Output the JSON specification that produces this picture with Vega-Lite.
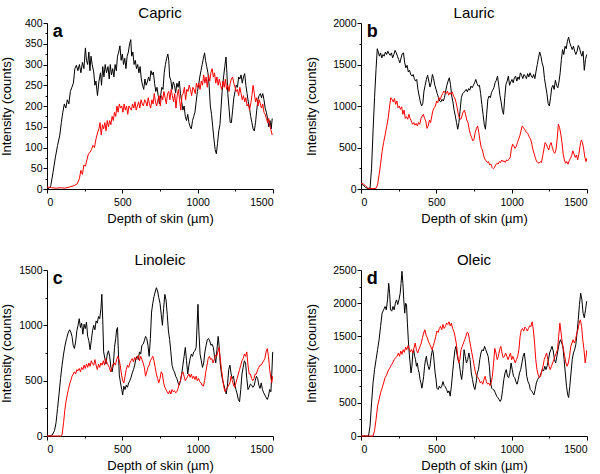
{
"$schema":"https://vega.github.io/schema/vega-lite/v6.json",
"padding":{"left":0,"top":6,"right":0,"bottom":0},
"background":"white",
"align":"each",
"config":{"view":{"stroke":null},"font":"Liberation Sans",
 "title":{"font":"Liberation Sans","fontSize":15,"fontWeight":"normal","color":"black","offset":1,"frame":"group","dy":4},
 "axis":{"grid":false,"domainColor":"black","tickColor":"black","labelColor":"black","titleColor":"black","labelFont":"Liberation Sans","titleFont":"Liberation Sans","labelFontSize":10.5,"titleFontSize":13,"titleFontWeight":"normal","labelPadding":1,"domainWidth":1,"tickWidth":1,"format":"d","labelOverlap":false},
 "axisX":{"titlePadding":5,"labelPadding":4},
 "line":{"strokeWidth":1,"interpolate":"linear"}},
"spacing":{"row":27,"column":30},
"columns":2,
"datasets":{
"aK":[{"d":0,"v":0},{"d":15,"v":2},{"d":25,"v":8},{"d":40,"v":40},{"d":55,"v":75},{"d":70,"v":105},{"d":85,"v":130},{"d":95,"v":160},{"d":105,"v":185},{"d":115,"v":205},{"d":125,"v":195},{"d":135,"v":215},{"d":145,"v":205},{"d":155,"v":235},{"d":165,"v":245},{"d":175,"v":255},{"d":185,"v":290},{"d":195,"v":298},{"d":205,"v":285},{"d":215,"v":300},{"d":225,"v":280},{"d":235,"v":305},{"d":245,"v":290},{"d":255,"v":340},{"d":262,"v":310},{"d":270,"v":300},{"d":278,"v":330},{"d":285,"v":285},{"d":292,"v":320},{"d":300,"v":300},{"d":310,"v":282},{"d":318,"v":250},{"d":325,"v":260},{"d":335,"v":225},{"d":345,"v":260},{"d":355,"v":280},{"d":362,"v":250},{"d":370,"v":295},{"d":378,"v":270},{"d":386,"v":300},{"d":395,"v":280},{"d":405,"v":295},{"d":413,"v":265},{"d":420,"v":300},{"d":428,"v":275},{"d":436,"v":290},{"d":444,"v":270},{"d":452,"v":300},{"d":460,"v":285},{"d":468,"v":320},{"d":476,"v":330},{"d":484,"v":345},{"d":492,"v":310},{"d":500,"v":325},{"d":508,"v":300},{"d":516,"v":315},{"d":524,"v":290},{"d":532,"v":320},{"d":540,"v":330},{"d":548,"v":350},{"d":556,"v":360},{"d":562,"v":320},{"d":570,"v":330},{"d":578,"v":300},{"d":586,"v":310},{"d":594,"v":290},{"d":602,"v":300},{"d":610,"v":280},{"d":618,"v":295},{"d":626,"v":265},{"d":634,"v":250},{"d":642,"v":240},{"d":650,"v":265},{"d":658,"v":250},{"d":666,"v":258},{"d":674,"v":270},{"d":682,"v":260},{"d":690,"v":285},{"d":698,"v":275},{"d":706,"v":282},{"d":714,"v":255},{"d":722,"v":235},{"d":730,"v":245},{"d":738,"v":225},{"d":746,"v":205},{"d":754,"v":225},{"d":762,"v":245},{"d":770,"v":240},{"d":778,"v":280},{"d":786,"v":300},{"d":794,"v":315},{"d":802,"v":325},{"d":808,"v":310},{"d":814,"v":270},{"d":822,"v":262},{"d":830,"v":240},{"d":838,"v":258},{"d":846,"v":250},{"d":854,"v":232},{"d":862,"v":255},{"d":870,"v":245},{"d":878,"v":260},{"d":886,"v":230},{"d":894,"v":210},{"d":902,"v":190},{"d":910,"v":200},{"d":918,"v":175},{"d":926,"v":165},{"d":934,"v":180},{"d":942,"v":160},{"d":950,"v":150},{"d":958,"v":145},{"d":966,"v":165},{"d":974,"v":175},{"d":982,"v":185},{"d":990,"v":210},{"d":998,"v":235},{"d":1006,"v":250},{"d":1014,"v":270},{"d":1022,"v":285},{"d":1030,"v":300},{"d":1038,"v":315},{"d":1046,"v":328},{"d":1052,"v":310},{"d":1060,"v":295},{"d":1068,"v":280},{"d":1076,"v":250},{"d":1084,"v":200},{"d":1092,"v":180},{"d":1100,"v":150},{"d":1108,"v":120},{"d":1116,"v":95},{"d":1124,"v":85},{"d":1132,"v":110},{"d":1140,"v":140},{"d":1148,"v":155},{"d":1156,"v":200},{"d":1164,"v":245},{"d":1172,"v":270},{"d":1180,"v":295},{"d":1188,"v":318},{"d":1194,"v":280},{"d":1200,"v":230},{"d":1208,"v":195},{"d":1216,"v":160},{"d":1224,"v":160},{"d":1232,"v":190},{"d":1240,"v":220},{"d":1248,"v":235},{"d":1256,"v":250},{"d":1264,"v":245},{"d":1272,"v":270},{"d":1280,"v":265},{"d":1288,"v":275},{"d":1296,"v":255},{"d":1304,"v":270},{"d":1312,"v":278},{"d":1320,"v":250},{"d":1328,"v":230},{"d":1336,"v":210},{"d":1344,"v":195},{"d":1352,"v":175},{"d":1360,"v":160},{"d":1368,"v":145},{"d":1376,"v":140},{"d":1384,"v":160},{"d":1392,"v":190},{"d":1400,"v":215},{"d":1408,"v":225},{"d":1416,"v":230},{"d":1424,"v":220},{"d":1432,"v":230},{"d":1440,"v":215},{"d":1448,"v":195},{"d":1456,"v":185},{"d":1464,"v":170},{"d":1472,"v":150},{"d":1480,"v":165},{"d":1488,"v":145},{"d":1495,"v":170}],
"aR":[{"d":0,"v":5},{"d":30,"v":3},{"d":60,"v":2},{"d":90,"v":3},{"d":120,"v":2},{"d":150,"v":5},{"d":180,"v":8},{"d":200,"v":12},{"d":215,"v":25},{"d":225,"v":45},{"d":235,"v":35},{"d":245,"v":58},{"d":255,"v":55},{"d":265,"v":70},{"d":275,"v":85},{"d":285,"v":88},{"d":295,"v":95},{"d":305,"v":105},{"d":315,"v":100},{"d":325,"v":120},{"d":335,"v":135},{"d":345,"v":145},{"d":352,"v":160},{"d":360,"v":130},{"d":368,"v":155},{"d":376,"v":145},{"d":384,"v":160},{"d":392,"v":140},{"d":400,"v":165},{"d":408,"v":150},{"d":416,"v":165},{"d":424,"v":155},{"d":432,"v":175},{"d":440,"v":165},{"d":448,"v":185},{"d":456,"v":175},{"d":464,"v":200},{"d":472,"v":185},{"d":480,"v":205},{"d":488,"v":195},{"d":496,"v":200},{"d":504,"v":185},{"d":512,"v":205},{"d":520,"v":190},{"d":528,"v":200},{"d":536,"v":180},{"d":544,"v":200},{"d":552,"v":195},{"d":560,"v":190},{"d":568,"v":205},{"d":576,"v":195},{"d":584,"v":210},{"d":592,"v":190},{"d":600,"v":200},{"d":608,"v":210},{"d":616,"v":195},{"d":624,"v":215},{"d":632,"v":205},{"d":640,"v":200},{"d":648,"v":215},{"d":656,"v":210},{"d":664,"v":200},{"d":672,"v":220},{"d":680,"v":205},{"d":688,"v":195},{"d":696,"v":215},{"d":704,"v":205},{"d":712,"v":230},{"d":720,"v":210},{"d":728,"v":200},{"d":736,"v":215},{"d":744,"v":225},{"d":752,"v":200},{"d":760,"v":225},{"d":768,"v":215},{"d":776,"v":235},{"d":784,"v":220},{"d":792,"v":205},{"d":800,"v":230},{"d":808,"v":235},{"d":816,"v":215},{"d":824,"v":240},{"d":832,"v":225},{"d":840,"v":210},{"d":848,"v":230},{"d":856,"v":195},{"d":864,"v":225},{"d":872,"v":240},{"d":880,"v":215},{"d":888,"v":190},{"d":896,"v":225},{"d":904,"v":230},{"d":912,"v":245},{"d":920,"v":215},{"d":928,"v":240},{"d":936,"v":235},{"d":944,"v":250},{"d":952,"v":240},{"d":960,"v":225},{"d":968,"v":245},{"d":976,"v":240},{"d":984,"v":230},{"d":992,"v":255},{"d":1000,"v":245},{"d":1008,"v":255},{"d":1016,"v":240},{"d":1024,"v":260},{"d":1032,"v":250},{"d":1040,"v":275},{"d":1048,"v":255},{"d":1056,"v":270},{"d":1064,"v":245},{"d":1072,"v":275},{"d":1080,"v":260},{"d":1088,"v":280},{"d":1096,"v":290},{"d":1104,"v":270},{"d":1112,"v":280},{"d":1120,"v":255},{"d":1128,"v":270},{"d":1136,"v":250},{"d":1144,"v":265},{"d":1152,"v":250},{"d":1160,"v":240},{"d":1168,"v":260},{"d":1176,"v":245},{"d":1184,"v":265},{"d":1192,"v":240},{"d":1200,"v":250},{"d":1208,"v":235},{"d":1216,"v":255},{"d":1224,"v":265},{"d":1232,"v":270},{"d":1240,"v":255},{"d":1248,"v":245},{"d":1256,"v":235},{"d":1264,"v":240},{"d":1272,"v":225},{"d":1280,"v":245},{"d":1288,"v":230},{"d":1296,"v":215},{"d":1304,"v":225},{"d":1312,"v":210},{"d":1320,"v":220},{"d":1328,"v":200},{"d":1336,"v":205},{"d":1344,"v":190},{"d":1352,"v":205},{"d":1360,"v":225},{"d":1368,"v":250},{"d":1376,"v":230},{"d":1384,"v":210},{"d":1392,"v":220},{"d":1400,"v":200},{"d":1408,"v":215},{"d":1416,"v":205},{"d":1424,"v":195},{"d":1432,"v":205},{"d":1440,"v":185},{"d":1448,"v":180},{"d":1456,"v":170},{"d":1464,"v":160},{"d":1472,"v":170},{"d":1480,"v":150},{"d":1488,"v":140},{"d":1495,"v":130}],
"bK":[{"d":0,"v":60},{"d":15,"v":45},{"d":30,"v":20},{"d":45,"v":5},{"d":60,"v":10},{"d":70,"v":250},{"d":80,"v":700},{"d":90,"v":1100},{"d":100,"v":1450},{"d":108,"v":1690},{"d":115,"v":1650},{"d":122,"v":1600},{"d":130,"v":1640},{"d":138,"v":1580},{"d":146,"v":1620},{"d":154,"v":1600},{"d":162,"v":1650},{"d":170,"v":1620},{"d":178,"v":1660},{"d":186,"v":1630},{"d":194,"v":1610},{"d":202,"v":1640},{"d":210,"v":1580},{"d":218,"v":1620},{"d":226,"v":1670},{"d":234,"v":1640},{"d":242,"v":1600},{"d":250,"v":1560},{"d":258,"v":1520},{"d":266,"v":1580},{"d":274,"v":1630},{"d":282,"v":1640},{"d":290,"v":1520},{"d":298,"v":1460},{"d":306,"v":1490},{"d":314,"v":1410},{"d":322,"v":1430},{"d":330,"v":1380},{"d":338,"v":1360},{"d":346,"v":1380},{"d":354,"v":1330},{"d":362,"v":1300},{"d":370,"v":1320},{"d":378,"v":1200},{"d":386,"v":1120},{"d":394,"v":1050},{"d":402,"v":1000},{"d":410,"v":1030},{"d":418,"v":1180},{"d":426,"v":1250},{"d":434,"v":1320},{"d":442,"v":1370},{"d":450,"v":1300},{"d":458,"v":1230},{"d":466,"v":1280},{"d":474,"v":1380},{"d":482,"v":1330},{"d":490,"v":1250},{"d":498,"v":1200},{"d":506,"v":1150},{"d":514,"v":1100},{"d":522,"v":1060},{"d":530,"v":1050},{"d":538,"v":1080},{"d":546,"v":1060},{"d":554,"v":1100},{"d":562,"v":1180},{"d":570,"v":1250},{"d":578,"v":1300},{"d":586,"v":1340},{"d":594,"v":1260},{"d":602,"v":1120},{"d":610,"v":1050},{"d":618,"v":950},{"d":626,"v":880},{"d":634,"v":800},{"d":642,"v":720},{"d":650,"v":800},{"d":658,"v":950},{"d":666,"v":1100},{"d":674,"v":1150},{"d":682,"v":1160},{"d":690,"v":1180},{"d":698,"v":1200},{"d":706,"v":1170},{"d":714,"v":1210},{"d":722,"v":1190},{"d":730,"v":1240},{"d":738,"v":1220},{"d":746,"v":1250},{"d":754,"v":1280},{"d":762,"v":1320},{"d":770,"v":1270},{"d":778,"v":1240},{"d":786,"v":1250},{"d":794,"v":1150},{"d":802,"v":1020},{"d":810,"v":900},{"d":818,"v":780},{"d":826,"v":720},{"d":834,"v":900},{"d":842,"v":1080},{"d":850,"v":1120},{"d":858,"v":1100},{"d":866,"v":1160},{"d":874,"v":1190},{"d":882,"v":1220},{"d":890,"v":1280},{"d":898,"v":1310},{"d":906,"v":1360},{"d":914,"v":1250},{"d":922,"v":1130},{"d":930,"v":1050},{"d":938,"v":950},{"d":946,"v":900},{"d":954,"v":1100},{"d":962,"v":1260},{"d":970,"v":1300},{"d":978,"v":1360},{"d":986,"v":1250},{"d":994,"v":1290},{"d":1002,"v":1320},{"d":1010,"v":1280},{"d":1018,"v":1340},{"d":1026,"v":1360},{"d":1034,"v":1300},{"d":1042,"v":1350},{"d":1050,"v":1320},{"d":1058,"v":1400},{"d":1066,"v":1370},{"d":1074,"v":1330},{"d":1082,"v":1380},{"d":1090,"v":1360},{"d":1098,"v":1330},{"d":1106,"v":1390},{"d":1114,"v":1350},{"d":1122,"v":1400},{"d":1130,"v":1360},{"d":1138,"v":1340},{"d":1146,"v":1380},{"d":1154,"v":1330},{"d":1162,"v":1420},{"d":1170,"v":1500},{"d":1178,"v":1580},{"d":1186,"v":1650},{"d":1194,"v":1600},{"d":1202,"v":1520},{"d":1210,"v":1470},{"d":1218,"v":1330},{"d":1226,"v":1240},{"d":1234,"v":1150},{"d":1242,"v":1030},{"d":1250,"v":1000},{"d":1258,"v":1100},{"d":1266,"v":1220},{"d":1274,"v":1250},{"d":1282,"v":1200},{"d":1290,"v":1310},{"d":1298,"v":1250},{"d":1306,"v":1220},{"d":1314,"v":1290},{"d":1322,"v":1400},{"d":1330,"v":1560},{"d":1338,"v":1680},{"d":1346,"v":1620},{"d":1354,"v":1720},{"d":1362,"v":1690},{"d":1370,"v":1780},{"d":1378,"v":1830},{"d":1386,"v":1760},{"d":1394,"v":1720},{"d":1402,"v":1680},{"d":1410,"v":1720},{"d":1418,"v":1660},{"d":1426,"v":1620},{"d":1434,"v":1660},{"d":1442,"v":1730},{"d":1450,"v":1700},{"d":1458,"v":1640},{"d":1466,"v":1600},{"d":1474,"v":1660},{"d":1482,"v":1430},{"d":1490,"v":1560},{"d":1498,"v":1620}],
"bR":[{"d":0,"v":70},{"d":15,"v":60},{"d":30,"v":40},{"d":45,"v":10},{"d":60,"v":5},{"d":80,"v":5},{"d":100,"v":8},{"d":110,"v":50},{"d":120,"v":170},{"d":130,"v":300},{"d":140,"v":450},{"d":150,"v":560},{"d":160,"v":650},{"d":170,"v":750},{"d":180,"v":850},{"d":190,"v":1000},{"d":198,"v":1100},{"d":206,"v":1080},{"d":214,"v":1050},{"d":222,"v":1090},{"d":230,"v":1020},{"d":238,"v":1060},{"d":246,"v":980},{"d":254,"v":1000},{"d":262,"v":960},{"d":270,"v":990},{"d":278,"v":900},{"d":286,"v":950},{"d":294,"v":850},{"d":302,"v":870},{"d":310,"v":840},{"d":318,"v":900},{"d":326,"v":850},{"d":334,"v":820},{"d":342,"v":780},{"d":350,"v":800},{"d":358,"v":770},{"d":366,"v":790},{"d":374,"v":760},{"d":382,"v":800},{"d":390,"v":780},{"d":398,"v":850},{"d":406,"v":880},{"d":414,"v":900},{"d":422,"v":850},{"d":430,"v":820},{"d":438,"v":730},{"d":446,"v":760},{"d":454,"v":830},{"d":462,"v":800},{"d":470,"v":880},{"d":478,"v":950},{"d":486,"v":980},{"d":494,"v":1000},{"d":502,"v":1060},{"d":510,"v":1040},{"d":518,"v":1100},{"d":526,"v":1080},{"d":534,"v":1120},{"d":542,"v":1150},{"d":550,"v":1180},{"d":558,"v":1160},{"d":566,"v":1150},{"d":574,"v":1180},{"d":582,"v":1130},{"d":590,"v":1160},{"d":598,"v":1140},{"d":606,"v":1170},{"d":614,"v":1120},{"d":622,"v":1100},{"d":630,"v":1050},{"d":638,"v":980},{"d":646,"v":900},{"d":654,"v":850},{"d":662,"v":840},{"d":670,"v":880},{"d":678,"v":930},{"d":686,"v":950},{"d":694,"v":900},{"d":702,"v":830},{"d":710,"v":800},{"d":718,"v":720},{"d":726,"v":660},{"d":734,"v":620},{"d":742,"v":580},{"d":750,"v":600},{"d":758,"v":680},{"d":766,"v":730},{"d":774,"v":760},{"d":782,"v":680},{"d":790,"v":580},{"d":798,"v":500},{"d":806,"v":470},{"d":814,"v":400},{"d":822,"v":360},{"d":830,"v":340},{"d":838,"v":320},{"d":846,"v":330},{"d":854,"v":290},{"d":862,"v":300},{"d":870,"v":260},{"d":878,"v":245},{"d":886,"v":260},{"d":894,"v":290},{"d":902,"v":310},{"d":910,"v":300},{"d":918,"v":330},{"d":926,"v":320},{"d":934,"v":350},{"d":942,"v":330},{"d":950,"v":340},{"d":958,"v":320},{"d":966,"v":350},{"d":974,"v":340},{"d":982,"v":360},{"d":990,"v":380},{"d":998,"v":480},{"d":1006,"v":540},{"d":1014,"v":520},{"d":1022,"v":490},{"d":1030,"v":510},{"d":1038,"v":560},{"d":1046,"v":600},{"d":1054,"v":640},{"d":1062,"v":700},{"d":1070,"v":760},{"d":1078,"v":740},{"d":1086,"v":720},{"d":1094,"v":690},{"d":1102,"v":680},{"d":1110,"v":660},{"d":1118,"v":620},{"d":1126,"v":600},{"d":1134,"v":540},{"d":1142,"v":470},{"d":1150,"v":420},{"d":1158,"v":370},{"d":1166,"v":330},{"d":1174,"v":320},{"d":1182,"v":310},{"d":1190,"v":330},{"d":1198,"v":320},{"d":1206,"v":400},{"d":1214,"v":480},{"d":1222,"v":560},{"d":1230,"v":540},{"d":1238,"v":500},{"d":1246,"v":470},{"d":1254,"v":530},{"d":1262,"v":560},{"d":1270,"v":500},{"d":1278,"v":450},{"d":1286,"v":430},{"d":1294,"v":470},{"d":1302,"v":600},{"d":1310,"v":780},{"d":1318,"v":740},{"d":1326,"v":660},{"d":1334,"v":560},{"d":1342,"v":420},{"d":1350,"v":350},{"d":1358,"v":310},{"d":1366,"v":330},{"d":1374,"v":300},{"d":1382,"v":340},{"d":1390,"v":370},{"d":1398,"v":400},{"d":1406,"v":460},{"d":1414,"v":420},{"d":1422,"v":380},{"d":1430,"v":410},{"d":1438,"v":350},{"d":1446,"v":420},{"d":1454,"v":520},{"d":1462,"v":590},{"d":1470,"v":560},{"d":1478,"v":480},{"d":1486,"v":380},{"d":1494,"v":330},{"d":1498,"v":370}],
"cK":[{"d":0,"v":0},{"d":20,"v":0},{"d":35,"v":10},{"d":50,"v":50},{"d":60,"v":120},{"d":70,"v":250},{"d":80,"v":380},{"d":90,"v":520},{"d":100,"v":640},{"d":110,"v":740},{"d":120,"v":820},{"d":130,"v":880},{"d":140,"v":930},{"d":150,"v":960},{"d":158,"v":940},{"d":166,"v":900},{"d":174,"v":820},{"d":182,"v":790},{"d":190,"v":850},{"d":198,"v":950},{"d":206,"v":1000},{"d":214,"v":1060},{"d":222,"v":980},{"d":230,"v":1020},{"d":238,"v":920},{"d":246,"v":1010},{"d":254,"v":970},{"d":262,"v":1030},{"d":270,"v":900},{"d":278,"v":860},{"d":286,"v":780},{"d":294,"v":860},{"d":302,"v":950},{"d":310,"v":1000},{"d":318,"v":960},{"d":326,"v":1040},{"d":334,"v":1020},{"d":342,"v":1080},{"d":350,"v":1060},{"d":358,"v":1150},{"d":364,"v":1280},{"d":370,"v":1050},{"d":376,"v":760},{"d":384,"v":700},{"d":392,"v":650},{"d":400,"v":740},{"d":408,"v":770},{"d":416,"v":720},{"d":424,"v":620},{"d":432,"v":580},{"d":440,"v":640},{"d":448,"v":800},{"d":456,"v":880},{"d":462,"v":960},{"d":468,"v":980},{"d":474,"v":750},{"d":480,"v":550},{"d":488,"v":480},{"d":496,"v":420},{"d":502,"v":370},{"d":510,"v":450},{"d":518,"v":420},{"d":526,"v":460},{"d":534,"v":440},{"d":542,"v":480},{"d":550,"v":500},{"d":558,"v":530},{"d":566,"v":570},{"d":574,"v":600},{"d":582,"v":640},{"d":590,"v":700},{"d":598,"v":720},{"d":606,"v":690},{"d":614,"v":760},{"d":622,"v":740},{"d":630,"v":820},{"d":638,"v":830},{"d":646,"v":860},{"d":654,"v":900},{"d":662,"v":880},{"d":670,"v":820},{"d":678,"v":720},{"d":686,"v":880},{"d":694,"v":1120},{"d":702,"v":1200},{"d":710,"v":1260},{"d":718,"v":1300},{"d":726,"v":1340},{"d":734,"v":1310},{"d":742,"v":1250},{"d":750,"v":1200},{"d":758,"v":1100},{"d":766,"v":1000},{"d":774,"v":1150},{"d":782,"v":1280},{"d":790,"v":1230},{"d":798,"v":1100},{"d":806,"v":950},{"d":814,"v":870},{"d":822,"v":760},{"d":830,"v":640},{"d":838,"v":600},{"d":846,"v":580},{"d":854,"v":540},{"d":862,"v":520},{"d":870,"v":480},{"d":878,"v":460},{"d":886,"v":500},{"d":894,"v":560},{"d":902,"v":640},{"d":910,"v":720},{"d":918,"v":800},{"d":926,"v":680},{"d":934,"v":560},{"d":942,"v":640},{"d":950,"v":700},{"d":958,"v":740},{"d":966,"v":720},{"d":974,"v":760},{"d":982,"v":770},{"d":990,"v":800},{"d":996,"v":1000},{"d":1002,"v":1190},{"d":1008,"v":950},{"d":1016,"v":740},{"d":1024,"v":680},{"d":1032,"v":620},{"d":1040,"v":660},{"d":1048,"v":760},{"d":1056,"v":820},{"d":1064,"v":870},{"d":1072,"v":880},{"d":1080,"v":860},{"d":1088,"v":820},{"d":1096,"v":830},{"d":1104,"v":800},{"d":1112,"v":720},{"d":1120,"v":660},{"d":1128,"v":780},{"d":1136,"v":900},{"d":1142,"v":820},{"d":1150,"v":650},{"d":1158,"v":560},{"d":1166,"v":500},{"d":1174,"v":460},{"d":1182,"v":420},{"d":1190,"v":380},{"d":1198,"v":460},{"d":1206,"v":600},{"d":1214,"v":640},{"d":1222,"v":560},{"d":1230,"v":520},{"d":1238,"v":540},{"d":1246,"v":460},{"d":1254,"v":420},{"d":1262,"v":380},{"d":1270,"v":330},{"d":1278,"v":310},{"d":1286,"v":420},{"d":1294,"v":560},{"d":1302,"v":620},{"d":1310,"v":680},{"d":1318,"v":660},{"d":1326,"v":520},{"d":1334,"v":420},{"d":1342,"v":440},{"d":1350,"v":470},{"d":1358,"v":460},{"d":1366,"v":440},{"d":1374,"v":450},{"d":1382,"v":500},{"d":1390,"v":540},{"d":1398,"v":520},{"d":1406,"v":460},{"d":1414,"v":430},{"d":1422,"v":480},{"d":1430,"v":420},{"d":1438,"v":390},{"d":1446,"v":370},{"d":1454,"v":350},{"d":1462,"v":330},{"d":1470,"v":360},{"d":1478,"v":420},{"d":1486,"v":400},{"d":1492,"v":560},{"d":1498,"v":760}],
"cR":[{"d":0,"v":0},{"d":50,"v":0},{"d":90,"v":0},{"d":100,"v":10},{"d":110,"v":120},{"d":118,"v":230},{"d":126,"v":310},{"d":134,"v":370},{"d":142,"v":420},{"d":150,"v":470},{"d":158,"v":500},{"d":166,"v":540},{"d":174,"v":560},{"d":182,"v":580},{"d":190,"v":560},{"d":198,"v":600},{"d":206,"v":590},{"d":214,"v":610},{"d":222,"v":580},{"d":230,"v":620},{"d":238,"v":600},{"d":246,"v":640},{"d":254,"v":610},{"d":262,"v":650},{"d":270,"v":620},{"d":278,"v":660},{"d":286,"v":630},{"d":294,"v":680},{"d":302,"v":650},{"d":310,"v":640},{"d":318,"v":690},{"d":326,"v":640},{"d":334,"v":600},{"d":342,"v":650},{"d":350,"v":620},{"d":358,"v":660},{"d":366,"v":640},{"d":374,"v":680},{"d":382,"v":640},{"d":390,"v":700},{"d":398,"v":660},{"d":406,"v":640},{"d":414,"v":620},{"d":422,"v":580},{"d":430,"v":610},{"d":438,"v":650},{"d":446,"v":660},{"d":454,"v":640},{"d":462,"v":690},{"d":470,"v":720},{"d":478,"v":690},{"d":486,"v":640},{"d":494,"v":560},{"d":502,"v":500},{"d":510,"v":480},{"d":518,"v":540},{"d":526,"v":600},{"d":534,"v":640},{"d":542,"v":620},{"d":550,"v":660},{"d":558,"v":680},{"d":566,"v":700},{"d":574,"v":670},{"d":582,"v":710},{"d":590,"v":690},{"d":598,"v":700},{"d":606,"v":730},{"d":614,"v":680},{"d":622,"v":720},{"d":630,"v":690},{"d":638,"v":660},{"d":646,"v":620},{"d":654,"v":540},{"d":662,"v":580},{"d":670,"v":620},{"d":678,"v":640},{"d":686,"v":680},{"d":694,"v":700},{"d":702,"v":720},{"d":710,"v":680},{"d":718,"v":620},{"d":726,"v":560},{"d":734,"v":520},{"d":742,"v":480},{"d":750,"v":520},{"d":758,"v":580},{"d":766,"v":560},{"d":774,"v":480},{"d":782,"v":440},{"d":790,"v":420},{"d":798,"v":400},{"d":806,"v":380},{"d":814,"v":410},{"d":822,"v":380},{"d":830,"v":420},{"d":838,"v":400},{"d":846,"v":410},{"d":854,"v":390},{"d":862,"v":400},{"d":870,"v":430},{"d":878,"v":480},{"d":886,"v":500},{"d":894,"v":560},{"d":902,"v":580},{"d":910,"v":540},{"d":918,"v":500},{"d":926,"v":520},{"d":934,"v":540},{"d":942,"v":560},{"d":950,"v":530},{"d":958,"v":560},{"d":966,"v":520},{"d":974,"v":540},{"d":982,"v":510},{"d":990,"v":540},{"d":998,"v":500},{"d":1006,"v":520},{"d":1014,"v":490},{"d":1022,"v":480},{"d":1030,"v":460},{"d":1038,"v":450},{"d":1046,"v":500},{"d":1054,"v":580},{"d":1062,"v":640},{"d":1070,"v":700},{"d":1078,"v":720},{"d":1086,"v":690},{"d":1094,"v":700},{"d":1102,"v":660},{"d":1110,"v":690},{"d":1118,"v":730},{"d":1126,"v":720},{"d":1134,"v":760},{"d":1142,"v":800},{"d":1150,"v":700},{"d":1158,"v":600},{"d":1166,"v":520},{"d":1174,"v":440},{"d":1182,"v":400},{"d":1190,"v":420},{"d":1198,"v":440},{"d":1206,"v":460},{"d":1214,"v":480},{"d":1222,"v":540},{"d":1230,"v":500},{"d":1238,"v":460},{"d":1246,"v":440},{"d":1254,"v":480},{"d":1262,"v":520},{"d":1270,"v":560},{"d":1278,"v":600},{"d":1286,"v":640},{"d":1294,"v":680},{"d":1302,"v":700},{"d":1310,"v":740},{"d":1318,"v":720},{"d":1326,"v":760},{"d":1334,"v":640},{"d":1342,"v":560},{"d":1350,"v":560},{"d":1358,"v":520},{"d":1366,"v":500},{"d":1374,"v":520},{"d":1382,"v":560},{"d":1390,"v":560},{"d":1398,"v":600},{"d":1406,"v":620},{"d":1414,"v":640},{"d":1422,"v":640},{"d":1430,"v":660},{"d":1438,"v":680},{"d":1446,"v":700},{"d":1454,"v":760},{"d":1462,"v":790},{"d":1470,"v":720},{"d":1478,"v":600},{"d":1486,"v":520},{"d":1492,"v":480},{"d":1498,"v":540}],
"dK":[{"d":0,"v":0},{"d":30,"v":0},{"d":50,"v":0},{"d":60,"v":150},{"d":70,"v":500},{"d":80,"v":800},{"d":90,"v":1000},{"d":100,"v":1150},{"d":110,"v":1300},{"d":120,"v":1450},{"d":130,"v":1650},{"d":140,"v":1850},{"d":150,"v":1900},{"d":160,"v":1950},{"d":168,"v":1900},{"d":176,"v":2050},{"d":184,"v":2300},{"d":190,"v":2150},{"d":196,"v":1900},{"d":204,"v":1880},{"d":212,"v":1950},{"d":220,"v":1900},{"d":228,"v":2000},{"d":236,"v":2050},{"d":244,"v":1980},{"d":252,"v":2050},{"d":260,"v":2150},{"d":266,"v":2300},{"d":272,"v":2480},{"d":278,"v":2300},{"d":284,"v":2050},{"d":290,"v":1850},{"d":296,"v":2000},{"d":302,"v":1980},{"d":308,"v":1700},{"d":314,"v":1450},{"d":320,"v":1250},{"d":326,"v":1100},{"d":332,"v":950},{"d":338,"v":1050},{"d":344,"v":1250},{"d":350,"v":1300},{"d":356,"v":1200},{"d":362,"v":1150},{"d":368,"v":1050},{"d":374,"v":1100},{"d":380,"v":1000},{"d":386,"v":950},{"d":392,"v":850},{"d":398,"v":800},{"d":404,"v":720},{"d":410,"v":800},{"d":416,"v":900},{"d":422,"v":1050},{"d":428,"v":1150},{"d":434,"v":1200},{"d":440,"v":1100},{"d":446,"v":1050},{"d":452,"v":1000},{"d":458,"v":1050},{"d":466,"v":1200},{"d":474,"v":1300},{"d":480,"v":1250},{"d":486,"v":1100},{"d":492,"v":950},{"d":498,"v":850},{"d":504,"v":720},{"d":512,"v":700},{"d":520,"v":750},{"d":528,"v":720},{"d":536,"v":750},{"d":544,"v":820},{"d":552,"v":760},{"d":560,"v":740},{"d":568,"v":700},{"d":576,"v":650},{"d":584,"v":680},{"d":592,"v":600},{"d":600,"v":750},{"d":608,"v":950},{"d":616,"v":1150},{"d":624,"v":1300},{"d":630,"v":1350},{"d":636,"v":1250},{"d":644,"v":1150},{"d":652,"v":1100},{"d":660,"v":950},{"d":668,"v":850},{"d":676,"v":1000},{"d":684,"v":1300},{"d":692,"v":1200},{"d":700,"v":1100},{"d":708,"v":1150},{"d":716,"v":1250},{"d":724,"v":1150},{"d":732,"v":950},{"d":740,"v":850},{"d":748,"v":750},{"d":756,"v":700},{"d":764,"v":800},{"d":772,"v":950},{"d":780,"v":1000},{"d":788,"v":1150},{"d":796,"v":1250},{"d":804,"v":1300},{"d":812,"v":1280},{"d":820,"v":1350},{"d":828,"v":1300},{"d":836,"v":1250},{"d":844,"v":1200},{"d":852,"v":1050},{"d":860,"v":800},{"d":868,"v":720},{"d":876,"v":700},{"d":884,"v":690},{"d":892,"v":650},{"d":900,"v":600},{"d":908,"v":580},{"d":916,"v":550},{"d":924,"v":520},{"d":932,"v":560},{"d":940,"v":700},{"d":948,"v":850},{"d":956,"v":950},{"d":964,"v":1000},{"d":972,"v":900},{"d":980,"v":880},{"d":988,"v":950},{"d":996,"v":1100},{"d":1004,"v":1000},{"d":1012,"v":900},{"d":1020,"v":880},{"d":1028,"v":820},{"d":1036,"v":780},{"d":1044,"v":850},{"d":1052,"v":950},{"d":1060,"v":1000},{"d":1068,"v":1100},{"d":1076,"v":1200},{"d":1084,"v":1250},{"d":1092,"v":1100},{"d":1100,"v":900},{"d":1108,"v":820},{"d":1116,"v":780},{"d":1124,"v":700},{"d":1132,"v":680},{"d":1140,"v":650},{"d":1148,"v":620},{"d":1156,"v":700},{"d":1164,"v":800},{"d":1172,"v":850},{"d":1180,"v":880},{"d":1188,"v":900},{"d":1196,"v":950},{"d":1204,"v":1000},{"d":1212,"v":980},{"d":1220,"v":1050},{"d":1228,"v":1000},{"d":1236,"v":1060},{"d":1244,"v":1150},{"d":1252,"v":1250},{"d":1260,"v":1300},{"d":1268,"v":1350},{"d":1276,"v":1280},{"d":1284,"v":1150},{"d":1292,"v":1100},{"d":1300,"v":1200},{"d":1308,"v":1300},{"d":1316,"v":1400},{"d":1324,"v":1450},{"d":1332,"v":1400},{"d":1340,"v":1350},{"d":1348,"v":1150},{"d":1356,"v":950},{"d":1364,"v":750},{"d":1372,"v":620},{"d":1378,"v":580},{"d":1386,"v":750},{"d":1394,"v":950},{"d":1402,"v":1150},{"d":1410,"v":1250},{"d":1418,"v":1300},{"d":1426,"v":1380},{"d":1434,"v":1550},{"d":1442,"v":1750},{"d":1450,"v":1980},{"d":1458,"v":2150},{"d":1466,"v":2050},{"d":1474,"v":1850},{"d":1482,"v":1780},{"d":1490,"v":1900},{"d":1498,"v":2030}],
"dR":[{"d":0,"v":0},{"d":50,"v":0},{"d":80,"v":0},{"d":90,"v":80},{"d":100,"v":250},{"d":110,"v":450},{"d":120,"v":550},{"d":130,"v":650},{"d":140,"v":720},{"d":150,"v":800},{"d":160,"v":880},{"d":170,"v":920},{"d":180,"v":980},{"d":190,"v":1020},{"d":200,"v":1060},{"d":210,"v":1100},{"d":220,"v":1150},{"d":230,"v":1180},{"d":240,"v":1200},{"d":248,"v":1250},{"d":256,"v":1200},{"d":264,"v":1280},{"d":272,"v":1230},{"d":280,"v":1300},{"d":288,"v":1260},{"d":296,"v":1340},{"d":304,"v":1300},{"d":312,"v":1360},{"d":320,"v":1320},{"d":328,"v":1270},{"d":336,"v":1300},{"d":344,"v":1250},{"d":352,"v":1330},{"d":360,"v":1400},{"d":368,"v":1300},{"d":376,"v":1250},{"d":384,"v":1300},{"d":392,"v":1350},{"d":400,"v":1400},{"d":408,"v":1480},{"d":416,"v":1550},{"d":424,"v":1600},{"d":432,"v":1520},{"d":440,"v":1480},{"d":448,"v":1420},{"d":456,"v":1380},{"d":464,"v":1340},{"d":472,"v":1300},{"d":480,"v":1360},{"d":488,"v":1420},{"d":496,"v":1500},{"d":504,"v":1580},{"d":512,"v":1560},{"d":520,"v":1620},{"d":528,"v":1650},{"d":536,"v":1600},{"d":544,"v":1680},{"d":552,"v":1620},{"d":560,"v":1650},{"d":568,"v":1700},{"d":576,"v":1680},{"d":584,"v":1720},{"d":592,"v":1660},{"d":600,"v":1700},{"d":608,"v":1620},{"d":616,"v":1580},{"d":624,"v":1500},{"d":632,"v":1400},{"d":640,"v":1250},{"d":648,"v":1100},{"d":656,"v":1150},{"d":664,"v":1300},{"d":672,"v":1350},{"d":680,"v":1400},{"d":688,"v":1450},{"d":696,"v":1500},{"d":704,"v":1560},{"d":712,"v":1550},{"d":720,"v":1450},{"d":728,"v":1350},{"d":736,"v":1250},{"d":744,"v":1150},{"d":752,"v":1050},{"d":760,"v":950},{"d":768,"v":900},{"d":776,"v":880},{"d":784,"v":850},{"d":792,"v":800},{"d":800,"v":820},{"d":808,"v":780},{"d":816,"v":850},{"d":824,"v":900},{"d":832,"v":820},{"d":840,"v":780},{"d":848,"v":800},{"d":856,"v":760},{"d":864,"v":800},{"d":872,"v":900},{"d":880,"v":1100},{"d":888,"v":1320},{"d":896,"v":1250},{"d":904,"v":1150},{"d":912,"v":1200},{"d":920,"v":1300},{"d":928,"v":1350},{"d":936,"v":1250},{"d":944,"v":1180},{"d":952,"v":1200},{"d":960,"v":1250},{"d":968,"v":1200},{"d":976,"v":1150},{"d":984,"v":1200},{"d":992,"v":1250},{"d":1000,"v":1150},{"d":1008,"v":1200},{"d":1016,"v":1150},{"d":1024,"v":1100},{"d":1032,"v":1150},{"d":1040,"v":1200},{"d":1048,"v":1300},{"d":1056,"v":1500},{"d":1064,"v":1600},{"d":1072,"v":1620},{"d":1080,"v":1580},{"d":1088,"v":1640},{"d":1096,"v":1620},{"d":1104,"v":1580},{"d":1112,"v":1620},{"d":1120,"v":1660},{"d":1128,"v":1650},{"d":1136,"v":1720},{"d":1144,"v":1600},{"d":1152,"v":1400},{"d":1160,"v":1150},{"d":1168,"v":1000},{"d":1176,"v":920},{"d":1184,"v":880},{"d":1192,"v":900},{"d":1200,"v":980},{"d":1208,"v":1050},{"d":1216,"v":1150},{"d":1224,"v":1200},{"d":1232,"v":1250},{"d":1240,"v":1150},{"d":1248,"v":1050},{"d":1256,"v":1000},{"d":1264,"v":1050},{"d":1272,"v":1100},{"d":1280,"v":1150},{"d":1288,"v":1200},{"d":1296,"v":1250},{"d":1304,"v":1300},{"d":1312,"v":1500},{"d":1320,"v":1700},{"d":1328,"v":1550},{"d":1336,"v":1400},{"d":1344,"v":1300},{"d":1352,"v":1200},{"d":1360,"v":1100},{"d":1368,"v":1050},{"d":1376,"v":1100},{"d":1384,"v":1200},{"d":1392,"v":1350},{"d":1400,"v":1400},{"d":1408,"v":1450},{"d":1416,"v":1400},{"d":1424,"v":1450},{"d":1432,"v":1550},{"d":1440,"v":1600},{"d":1448,"v":1700},{"d":1456,"v":1750},{"d":1464,"v":1650},{"d":1472,"v":1450},{"d":1480,"v":1300},{"d":1488,"v":1100},{"d":1494,"v":1200},{"d":1498,"v":1290}]
},
"concat":[
{"title":{"text":"Capric","fontWeight":"normal","fontSize":15},"width":226,"height":166,
 "layer":[
  {"data":{"name":"aK"},"mark":{"type":"line","color":"black"},
   "encoding":{
    "x":{"field":"d","type":"quantitative","title":"Depth of skin (µm)","scale":{"domain":[0,1500],"nice":false},"axis":{"labelOverlap":false,"values":[0,250,500,750,1000,1250,1500],"labelExpr":"datum.value % 500 === 0 ? datum.label : ''","tickSize":{"condition":{"test":"datum.value % 500 === 0","value":4},"value":2}}},
    "y":{"field":"v","type":"quantitative","title":"Intensity (counts)","scale":{"domain":[0,400],"nice":false},"axis":{"labelOverlap":false,"titleX":-34,"values":[0,25,50,75,100,125,150,175,200,225,250,275,300,325,350,375,400],"labelExpr":"datum.value % 50 === 0 ? datum.label : ''","tickSize":{"condition":{"test":"datum.value % 50 === 0","value":4},"value":2}}}}},
  {"data":{"name":"aR"},"mark":{"type":"line","color":"#ff0000"},
   "encoding":{
    "x":{"field":"d","type":"quantitative","title":"Depth of skin (µm)","scale":{"domain":[0,1500],"nice":false},"axis":{"labelOverlap":false,"values":[0,250,500,750,1000,1250,1500],"labelExpr":"datum.value % 500 === 0 ? datum.label : ''","tickSize":{"condition":{"test":"datum.value % 500 === 0","value":4},"value":2}}},
    "y":{"field":"v","type":"quantitative","title":"Intensity (counts)","scale":{"domain":[0,400],"nice":false},"axis":{"labelOverlap":false,"titleX":-34,"values":[0,25,50,75,100,125,150,175,200,225,250,275,300,325,350,375,400],"labelExpr":"datum.value % 50 === 0 ? datum.label : ''","tickSize":{"condition":{"test":"datum.value % 50 === 0","value":4},"value":2}}}}},
  {"data":{"values":[{"t":"a"}]},"mark":{"type":"text","fontSize":18,"fontWeight":"bold","align":"left","baseline":"alphabetic","color":"black"},
   "encoding":{
    "x":{"datum":38,"type":"quantitative","title":"Depth of skin (µm)","scale":{"domain":[0,1500],"nice":false},"axis":{"labelOverlap":false,"values":[0,250,500,750,1000,1250,1500],"labelExpr":"datum.value % 500 === 0 ? datum.label : ''","tickSize":{"condition":{"test":"datum.value % 500 === 0","value":4},"value":2}}},
    "y":{"datum":366,"type":"quantitative","title":"Intensity (counts)","scale":{"domain":[0,400],"nice":false},"axis":{"labelOverlap":false,"titleX":-34,"values":[0,25,50,75,100,125,150,175,200,225,250,275,300,325,350,375,400],"labelExpr":"datum.value % 50 === 0 ? datum.label : ''","tickSize":{"condition":{"test":"datum.value % 50 === 0","value":4},"value":2}}},
    "text":{"field":"t","type":"nominal"}}}
 ]},
{"title":{"text":"Lauric","fontWeight":"normal","fontSize":15},"width":226,"height":166,
 "layer":[
  {"data":{"name":"bK"},"mark":{"type":"line","color":"black"},
   "encoding":{
    "x":{"field":"d","type":"quantitative","title":"Depth of skin (µm)","scale":{"domain":[0,1500],"nice":false},"axis":{"labelOverlap":false,"values":[0,250,500,750,1000,1250,1500],"labelExpr":"datum.value % 500 === 0 ? datum.label : ''","tickSize":{"condition":{"test":"datum.value % 500 === 0","value":4},"value":2}}},
    "y":{"field":"v","type":"quantitative","title":"Intensity (counts)","scale":{"domain":[0,2000],"nice":false},"axis":{"labelOverlap":false,"titleX":-43,"values":[0,250,500,750,1000,1250,1500,1750,2000],"labelExpr":"datum.value % 500 === 0 ? datum.label : ''","tickSize":{"condition":{"test":"datum.value % 500 === 0","value":4},"value":2}}}}},
  {"data":{"name":"bR"},"mark":{"type":"line","color":"#ff0000"},
   "encoding":{
    "x":{"field":"d","type":"quantitative","title":"Depth of skin (µm)","scale":{"domain":[0,1500],"nice":false},"axis":{"labelOverlap":false,"values":[0,250,500,750,1000,1250,1500],"labelExpr":"datum.value % 500 === 0 ? datum.label : ''","tickSize":{"condition":{"test":"datum.value % 500 === 0","value":4},"value":2}}},
    "y":{"field":"v","type":"quantitative","title":"Intensity (counts)","scale":{"domain":[0,2000],"nice":false},"axis":{"labelOverlap":false,"titleX":-43,"values":[0,250,500,750,1000,1250,1500,1750,2000],"labelExpr":"datum.value % 500 === 0 ? datum.label : ''","tickSize":{"condition":{"test":"datum.value % 500 === 0","value":4},"value":2}}}}},
  {"data":{"values":[{"t":"b"}]},"mark":{"type":"text","fontSize":18,"fontWeight":"bold","align":"left","baseline":"alphabetic","color":"black"},
   "encoding":{
    "x":{"datum":38,"type":"quantitative","title":"Depth of skin (µm)","scale":{"domain":[0,1500],"nice":false},"axis":{"labelOverlap":false,"values":[0,250,500,750,1000,1250,1500],"labelExpr":"datum.value % 500 === 0 ? datum.label : ''","tickSize":{"condition":{"test":"datum.value % 500 === 0","value":4},"value":2}}},
    "y":{"datum":1831,"type":"quantitative","title":"Intensity (counts)","scale":{"domain":[0,2000],"nice":false},"axis":{"labelOverlap":false,"titleX":-43,"values":[0,250,500,750,1000,1250,1500,1750,2000],"labelExpr":"datum.value % 500 === 0 ? datum.label : ''","tickSize":{"condition":{"test":"datum.value % 500 === 0","value":4},"value":2}}},
    "text":{"field":"t","type":"nominal"}}}
 ]},
{"title":{"text":"Linoleic","fontWeight":"normal","fontSize":15},"width":226,"height":166,
 "layer":[
  {"data":{"name":"cK"},"mark":{"type":"line","color":"black"},
   "encoding":{
    "x":{"field":"d","type":"quantitative","title":"Depth of skin (µm)","scale":{"domain":[0,1500],"nice":false},"axis":{"labelOverlap":false,"values":[0,250,500,750,1000,1250,1500],"labelExpr":"datum.value % 500 === 0 ? datum.label : ''","tickSize":{"condition":{"test":"datum.value % 500 === 0","value":4},"value":2}}},
    "y":{"field":"v","type":"quantitative","title":"Intensity (counts)","scale":{"domain":[0,1500],"nice":false},"axis":{"labelOverlap":false,"titleX":-34,"values":[0,250,500,750,1000,1250,1500],"labelExpr":"datum.value % 500 === 0 ? datum.label : ''","tickSize":{"condition":{"test":"datum.value % 500 === 0","value":4},"value":2}}}}},
  {"data":{"name":"cR"},"mark":{"type":"line","color":"#ff0000"},
   "encoding":{
    "x":{"field":"d","type":"quantitative","title":"Depth of skin (µm)","scale":{"domain":[0,1500],"nice":false},"axis":{"labelOverlap":false,"values":[0,250,500,750,1000,1250,1500],"labelExpr":"datum.value % 500 === 0 ? datum.label : ''","tickSize":{"condition":{"test":"datum.value % 500 === 0","value":4},"value":2}}},
    "y":{"field":"v","type":"quantitative","title":"Intensity (counts)","scale":{"domain":[0,1500],"nice":false},"axis":{"labelOverlap":false,"titleX":-34,"values":[0,250,500,750,1000,1250,1500],"labelExpr":"datum.value % 500 === 0 ? datum.label : ''","tickSize":{"condition":{"test":"datum.value % 500 === 0","value":4},"value":2}}}}},
  {"data":{"values":[{"t":"c"}]},"mark":{"type":"text","fontSize":18,"fontWeight":"bold","align":"left","baseline":"alphabetic","color":"black"},
   "encoding":{
    "x":{"datum":38,"type":"quantitative","title":"Depth of skin (µm)","scale":{"domain":[0,1500],"nice":false},"axis":{"labelOverlap":false,"values":[0,250,500,750,1000,1250,1500],"labelExpr":"datum.value % 500 === 0 ? datum.label : ''","tickSize":{"condition":{"test":"datum.value % 500 === 0","value":4},"value":2}}},
    "y":{"datum":1374,"type":"quantitative","title":"Intensity (counts)","scale":{"domain":[0,1500],"nice":false},"axis":{"labelOverlap":false,"titleX":-34,"values":[0,250,500,750,1000,1250,1500],"labelExpr":"datum.value % 500 === 0 ? datum.label : ''","tickSize":{"condition":{"test":"datum.value % 500 === 0","value":4},"value":2}}},
    "text":{"field":"t","type":"nominal"}}}
 ]},
{"title":{"text":"Oleic","fontWeight":"normal","fontSize":15},"width":226,"height":166,
 "layer":[
  {"data":{"name":"dK"},"mark":{"type":"line","color":"black"},
   "encoding":{
    "x":{"field":"d","type":"quantitative","title":"Depth of skin (µm)","scale":{"domain":[0,1500],"nice":false},"axis":{"labelOverlap":false,"values":[0,250,500,750,1000,1250,1500],"labelExpr":"datum.value % 500 === 0 ? datum.label : ''","tickSize":{"condition":{"test":"datum.value % 500 === 0","value":4},"value":2}}},
    "y":{"field":"v","type":"quantitative","title":"Intensity (counts)","scale":{"domain":[0,2500],"nice":false},"axis":{"labelOverlap":false,"titleX":-43,"values":[0,250,500,750,1000,1250,1500,1750,2000,2250,2500],"labelExpr":"datum.value % 500 === 0 ? datum.label : ''","tickSize":{"condition":{"test":"datum.value % 500 === 0","value":4},"value":2}}}}},
  {"data":{"name":"dR"},"mark":{"type":"line","color":"#ff0000"},
   "encoding":{
    "x":{"field":"d","type":"quantitative","title":"Depth of skin (µm)","scale":{"domain":[0,1500],"nice":false},"axis":{"labelOverlap":false,"values":[0,250,500,750,1000,1250,1500],"labelExpr":"datum.value % 500 === 0 ? datum.label : ''","tickSize":{"condition":{"test":"datum.value % 500 === 0","value":4},"value":2}}},
    "y":{"field":"v","type":"quantitative","title":"Intensity (counts)","scale":{"domain":[0,2500],"nice":false},"axis":{"labelOverlap":false,"titleX":-43,"values":[0,250,500,750,1000,1250,1500,1750,2000,2250,2500],"labelExpr":"datum.value % 500 === 0 ? datum.label : ''","tickSize":{"condition":{"test":"datum.value % 500 === 0","value":4},"value":2}}}}},
  {"data":{"values":[{"t":"d"}]},"mark":{"type":"text","fontSize":18,"fontWeight":"bold","align":"left","baseline":"alphabetic","color":"black"},
   "encoding":{
    "x":{"datum":38,"type":"quantitative","title":"Depth of skin (µm)","scale":{"domain":[0,1500],"nice":false},"axis":{"labelOverlap":false,"values":[0,250,500,750,1000,1250,1500],"labelExpr":"datum.value % 500 === 0 ? datum.label : ''","tickSize":{"condition":{"test":"datum.value % 500 === 0","value":4},"value":2}}},
    "y":{"datum":2289,"type":"quantitative","title":"Intensity (counts)","scale":{"domain":[0,2500],"nice":false},"axis":{"labelOverlap":false,"titleX":-43,"values":[0,250,500,750,1000,1250,1500,1750,2000,2250,2500],"labelExpr":"datum.value % 500 === 0 ? datum.label : ''","tickSize":{"condition":{"test":"datum.value % 500 === 0","value":4},"value":2}}},
    "text":{"field":"t","type":"nominal"}}}
 ]}
]
}
